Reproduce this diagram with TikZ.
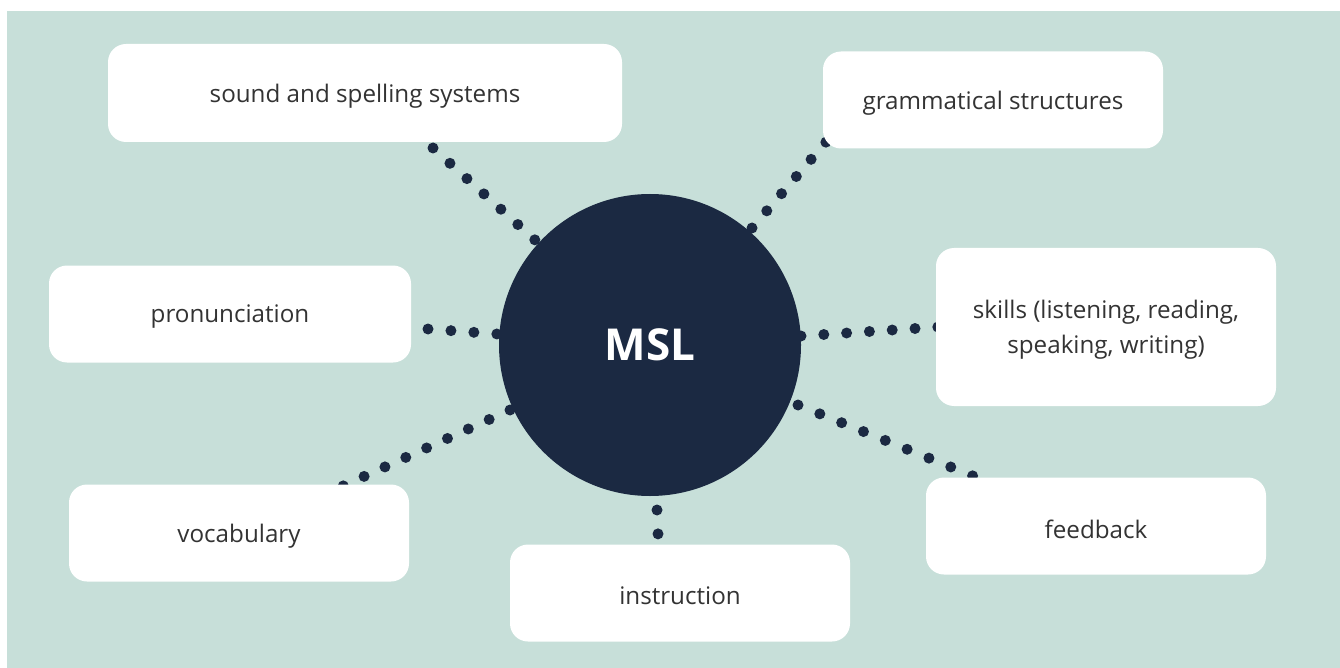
\documentclass[tikz,border=0pt]{standalone}
\usepackage{fontspec}
\setmainfont{Open Sans}
\definecolor{bgteal}{RGB}{199,223,217}
\definecolor{navy}{RGB}{27,41,66}
\definecolor{txt}{RGB}{51,51,51}
\begin{document}
\begin{tikzpicture}[x=1pt,y=-1pt,
  box/.style={fill=white,rounded corners=18pt,inner sep=0pt,font=\fontsize{24.2}{35}\selectfont,text=txt,align=center},
  dotline/.style={draw=navy,line width=11pt,line cap=round,dash pattern=on 0pt off #1}]
\useasboundingbox (0,0) rectangle (1340,668);
\fill[white] (0,0) rectangle (1340,668);
\fill[bgteal] (7,11) rectangle (1340,668);
% connector end points
\coordinate (s1) at (433,148); \coordinate (s2) at (535,240);
\coordinate (g1) at (826,142); \coordinate (g2) at (752,228);
\coordinate (p1) at (428,329); \coordinate (p2) at (497,334);
\coordinate (k1) at (801,336); \coordinate (k2) at (938,327);
\coordinate (v1) at (343,486); \coordinate (v2) at (510,410);
\coordinate (f1) at (798,405); \coordinate (f2) at (973,476);
\coordinate (i1) at (657,510); \coordinate (i2) at (658,534);
\draw[dotline=22.85] (s1) -- (s2);
\draw[dotline=22.65] (g2) -- (g1);
\draw[dotline=23.0] (p1) -- (p2);
\draw[dotline=22.85] (k1) -- (k2);
\draw[dotline=22.9] (v2) -- (v1);
\draw[dotline=23.55] (f1) -- (f2);
\draw[dotline=23.9] (i1) -- (i2);
% central circle
\node[circle,fill=navy,minimum size=302pt,inner sep=0pt,text=white,font=\fontsize{44}{50}\selectfont\bfseries] (msl) at (650,345) {MSL};
% boxes
\node[box,minimum width=514pt,minimum height=98pt] (sound) at (365,93) {};
\node[box,minimum width=340pt,minimum height=97pt] (gram) at (993,100) {};
\node[box,minimum width=362pt,minimum height=97pt] (pron) at (230,314) {};
\node[box,minimum width=340pt,minimum height=158pt] (skills) at (1106,327) {};
\node[box,minimum width=340pt,minimum height=97pt] (vocab) at (239,533) {};
\node[box,minimum width=340pt,minimum height=97pt] (instr) at (680,593) {};
\node[box,minimum width=340pt,minimum height=97pt] (feed) at (1096,526) {};
% labels
\node[box,fill=none] at ([yshift=-3pt]sound.center) {sound and spelling systems};
\node[box,fill=none] at ([yshift=-3pt]gram.center) {grammatical structures};
\node[box,fill=none] at ([yshift=-3pt]pron.center) {pronunciation};
\node[box,fill=none] at ([yshift=-3pt]skills.center) {skills (listening, reading,\\speaking, writing)};
\node[box,fill=none] at ([yshift=-3pt]vocab.center) {vocabulary};
\node[box,fill=none] at ([yshift=-3pt]instr.center) {instruction};
\node[box,fill=none] at ([yshift=-3pt]feed.center) {feedback};
\end{tikzpicture}
\end{document}
